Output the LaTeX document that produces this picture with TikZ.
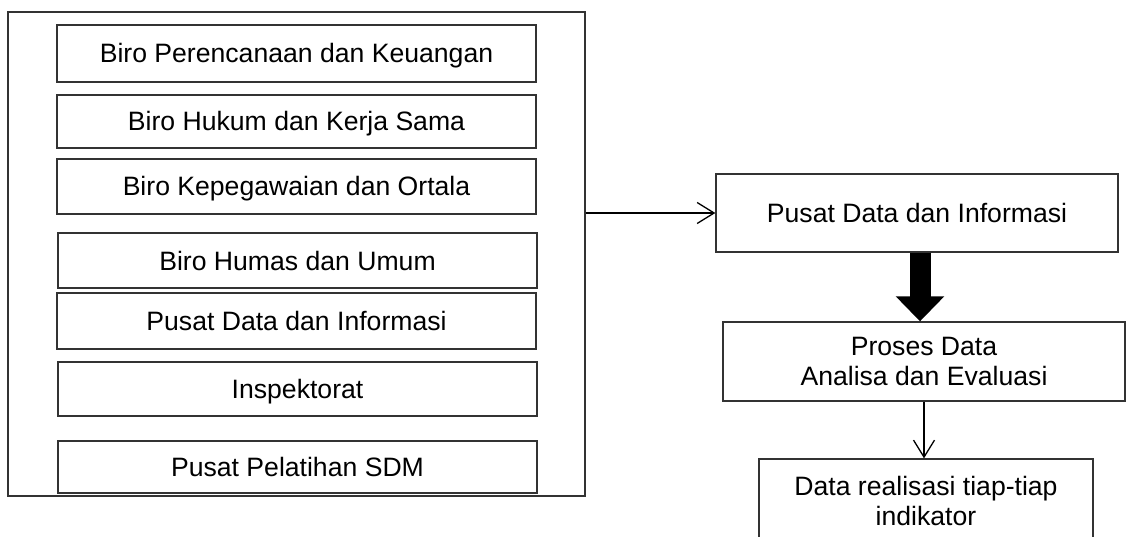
\documentclass[tikz,border=0pt]{standalone}
\usepackage{fontspec}
\setmainfont{Liberation Sans}
\usetikzlibrary{arrows.meta}
\begin{document}
\begin{tikzpicture}[x=1pt,y=-1pt,
  frame/.style={draw=black!80, line width=1.3pt, inner sep=0pt},
  box/.style={frame, font=\fontsize{26.6}{30.5}\selectfont},
  unit/.style={box, minimum width=479pt, text height=19pt, text depth=0pt},
  flowbox/.style={box, align=center},
  link/.style={draw=black, line width=1.3pt, -{Straight Barb[length=17pt,width=21pt,line width=1.3pt]}},
  bigflow/.style={draw=black, line width=21pt, -{Triangle[length=25pt,width=47pt]}}
]
\path[use as bounding box] (0,0) rectangle (1126,537);
\clip (0,0) rectangle (1126,537);

% group of work units
\node[frame, minimum width=577pt, minimum height=484pt] (outer) at (296.5,254) {};
\node[unit, minimum height=57pt] (b1) at (296.5,53.5) {Biro Perencanaan dan Keuangan};
\node[unit, minimum height=53pt] (b2) at (296.5,121.5) {Biro Hukum dan Kerja Sama};
\node[unit, minimum height=55pt] (b3) at (296.5,186.5) {Biro Kepegawaian dan Ortala};
\node[unit, minimum height=55pt] (b4) at (297.5,260.5) {Biro Humas dan Umum};
\node[unit, minimum height=56pt] (b5) at (296.5,321) {Pusat Data dan Informasi};
\node[unit, minimum height=54pt] (b6) at (297.5,389) {Inspektorat};
\node[unit, minimum height=52pt] (b7) at (297.5,467) {Pusat Pelatihan SDM};

% processing chain
\node[box, minimum width=402pt, minimum height=78pt, text height=19pt, text depth=0pt] (pusat) at (917,213) {Pusat Data dan Informasi};
\node[flowbox, minimum width=402pt, minimum height=79pt] (proses) at (924,361.5) {Proses Data\\Analisa dan Evaluasi};
\node[flowbox, minimum width=334pt, minimum height=84pt] (data) at (926,501) {Data realisasi tiap-tiap\\indikator};

% connectors
\draw[link] (outer.east |- pusat.west) -- (pusat.west);
\draw[bigflow] ([xshift=3pt]pusat.south) -- ([xshift=3pt]pusat.south |- proses.north);
\draw[link] (proses.south) -- (proses.south |- data.north);
\end{tikzpicture}
\end{document}
